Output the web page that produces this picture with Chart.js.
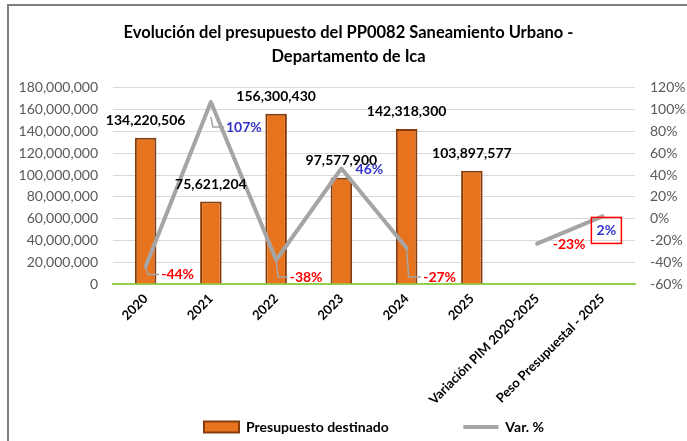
<!DOCTYPE html>
<html><head><meta charset="utf-8">
<script src="https://cdn.jsdelivr.net/npm/chart.js@4.4.1/dist/chart.umd.min.js"></script>
<style>html,body{margin:0;padding:0;background:#fff;overflow:hidden;} #wrap{position:relative;width:687px;height:441px;overflow:hidden;}</style>
</head><body><div id="wrap"><canvas id="c" width="687" height="444"></canvas></div>
<script>
const categories = ['2020', '2021', '2022', '2023', '2024', '2025', 'Variación PIM 2020-2025', 'Peso Presupuestal - 2025'];
const budget = [134220506, 75621204, 156300430, 97577900, 142318300, 103897577, null, null];
const varPct = [-0.44, 1.07, -0.38, 0.46, -0.27, null, -0.23, 0.02];
const leftTicks = [0, 20000000, 40000000, 60000000, 80000000, 100000000, 120000000, 140000000, 160000000, 180000000];
const rightTicks = [-0.6, -0.4, -0.2, 0, 0.2, 0.4, 0.6, 0.8, 1.0, 1.2];
const titleLines = ['Evolución del presupuesto del PP0082 Saneamiento Urbano -', 'Departamento de Ica'];

const FONT = 'Lato, "Open Sans", sans-serif';
const ORANGE = '#E8731E', BROWN = '#843C0C', GRAY = '#A5A5A5';
const RED = '#FF0000', BLUE = '#3333CC';

// label styling per point (offsets relative to point)
const pctStyle = [
  {dx: 32, dy: 8, color: RED, leader: true, ls: 0},
  {dx: 33, dy: 25, color: BLUE, leader: true, ls: 15},
  {dx: 30, dy: 17, color: RED, leader: true, ls: 0},
  {dx: 28, dy: 1, color: BLUE},
  {dx: 33, dy: 29, color: RED, leader: true, ls: 0},
  null,
  {dx: 32, dy: 1, color: RED},
  {dx: 4, dy: 14, color: BLUE, box: true}
];

const framePlugin = {
  id: 'frame',
  beforeDraw(chart) {
    const ctx = chart.ctx;
    ctx.save();
    ctx.fillStyle = '#fff';
    ctx.fillRect(0, 0, chart.width, chart.height);
    ctx.fillStyle = '#7F7F7F';
    ctx.fillRect(7, 4, 2, chart.height);
    ctx.fillRect(7, 4, chart.width, 2);
    ctx.restore();
  }
};

const labelPlugin = {
  id: 'valueLabels',
  afterDatasetsDraw(chart) {
    const ctx = chart.ctx;
    ctx.save();
    ctx.textAlign = 'center';
    ctx.textBaseline = 'middle';
    const barMeta = chart.getDatasetMeta(0);
    ctx.font = 'bold 14px ' + FONT;
    ctx.fillStyle = '#000';
    barMeta.data.forEach((el, i) => {
      if (budget[i] == null) return;
      ctx.fillText(budget[i].toLocaleString('en-US'), el.x, el.y - 17);
    });
    const lineMeta = chart.getDatasetMeta(1);
    lineMeta.data.forEach((el, i) => {
      const st = pctStyle[i];
      if (varPct[i] == null || !st) return;
      const txt = Math.round(varPct[i] * 100) + '%';
      const lx = el.x + st.dx, ly = el.y + st.dy;
      const w = ctx.measureText(txt).width;
      if (st.leader) {
        ctx.strokeStyle = GRAY;
        ctx.lineWidth = 1.5;
        ctx.beginPath();
        ctx.moveTo(el.x, el.y + st.ls);
        ctx.lineTo(el.x + 2, ly);
        ctx.lineTo(lx - w / 2 - 2, ly);
        ctx.stroke();
      }
      if (st.box) {
        ctx.strokeStyle = RED;
        ctx.lineWidth = 1.5;
        ctx.strokeRect(lx - 15, ly - 13, 30, 26);
      }
      ctx.fillStyle = st.color;
      ctx.fillText(txt, lx, ly);
    });
    ctx.restore();
  }
};

new Chart(document.getElementById('c'), {
  data: {
    labels: categories,
    datasets: [
      {
        type: 'bar', label: 'Presupuesto destinado', data: budget, yAxisID: 'y',
        backgroundColor: ORANGE, borderColor: BROWN, borderWidth: 2,
        barPercentage: 0.33, categoryPercentage: 1, order: 2
      },
      {
        type: 'line', label: 'Var. %', data: varPct, yAxisID: 'y1',
        borderColor: GRAY, backgroundColor: GRAY, borderWidth: 4, pointRadius: 0,
        spanGaps: false, tension: 0, borderCapStyle: 'round', borderJoinStyle: 'round', order: 1
      }
    ]
  },
  options: {
    responsive: false, animation: false, devicePixelRatio: 1,
    layout: {padding: {left: 10, right: 0, top: 0, bottom: 0}},
    plugins: {
      tooltip: {enabled: false},
      title: {
        display: true, text: titleLines, color: '#000',
        font: {family: FONT, size: 16.5, weight: 'bold', lineHeight: 1.45},
        padding: {top: 21, bottom: 19}
      },
      legend: {
        position: 'bottom', fullSize: false,
        labels: {
          usePointStyle: true, pointStyleWidth: 35, boxHeight: 11, padding: 10,
          color: '#000', font: {family: FONT, size: 14, weight: 'bold'},
          generateLabels: (chart) => {
            const ds = chart.data.datasets;
            return [
              {text: ds[0].label + '                   ', fillStyle: ORANGE, strokeStyle: BROWN, lineWidth: 2, pointStyle: 'rect', datasetIndex: 0, hidden: false, fontColor: '#000'},
              {text: ds[1].label, fillStyle: GRAY, strokeStyle: GRAY, lineWidth: 4, pointStyle: 'line', datasetIndex: 1, hidden: false, fontColor: '#000'}
            ];
          }
        }
      }
    },
    scales: {
      x: {
        grid: {display: false, drawTicks: false},
        border: {display: true, color: '#92D050', width: 2},
        ticks: {color: '#000', font: {family: FONT, size: 13, weight: 'bold'}, minRotation: 45, maxRotation: 45, autoSkip: false, padding: 7},
        afterFit: (s) => { s.height = 126; }
      },
      y: {
        position: 'left', min: 0, max: 180000000,
        afterBuildTicks: (s) => { s.ticks = leftTicks.map(v => ({value: v})); },
        grid: {color: '#D9D9D9', lineWidth: 1, drawTicks: false},
        border: {display: false},
        ticks: {color: '#595959', font: {family: FONT, size: 14}, padding: 15, callback: (v) => Number(v).toLocaleString('en-US')},
        afterFit: (s) => { s.width = 103; }
      },
      y1: {
        position: 'right', min: -0.6, max: 1.2,
        afterBuildTicks: (s) => { s.ticks = rightTicks.map(v => ({value: v})); },
        grid: {display: false, drawTicks: false},
        border: {display: false},
        ticks: {color: '#595959', font: {family: FONT, size: 14}, padding: 15, callback: (v) => Math.round(v * 100) + '%'},
        afterFit: (s) => { s.width = 52; }
      }
    }
  },
  plugins: [framePlugin, labelPlugin]
});
</script></body></html>
